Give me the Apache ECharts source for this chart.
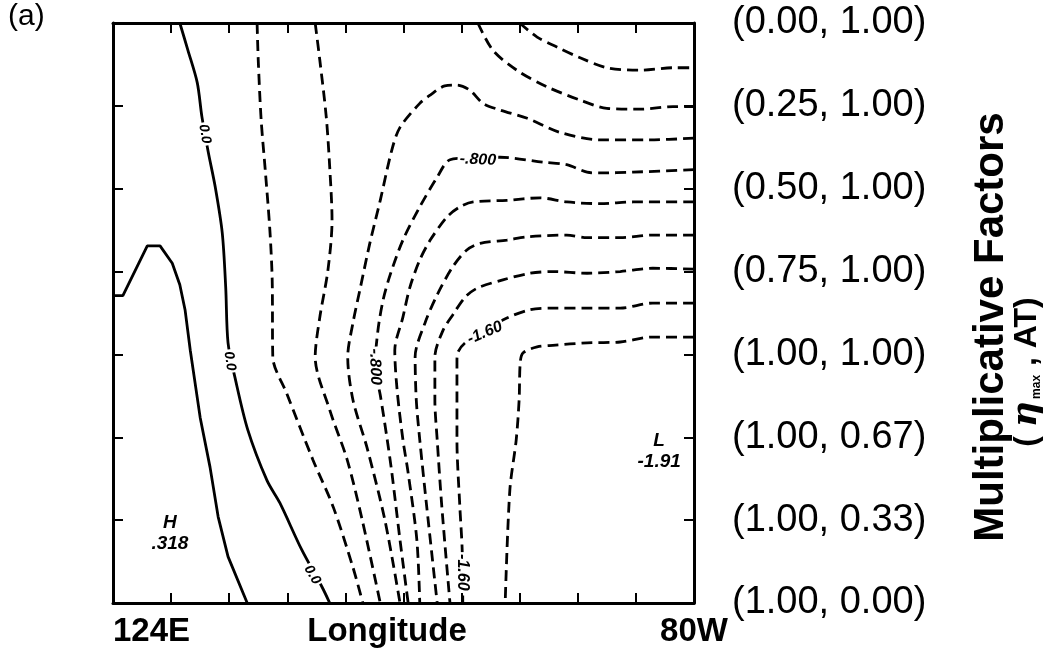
<!DOCTYPE html>
<html><head><meta charset="utf-8">
<script src="https://cdn.jsdelivr.net/npm/echarts@6/dist/echarts.min.js"></script>
<style>html,body{margin:0;padding:0;background:#fff}#c{width:1044px;height:659px}</style>
</head><body><div id="c"></div>
<script>
// y categories (top to bottom): multiplicative factors (eta_max, AT)
const yTickLabels = ['(0.00, 1.00)','(0.25, 1.00)','(0.50, 1.00)','(0.75, 1.00)','(1.00, 1.00)','(1.00, 0.67)','(1.00, 0.33)','(1.00, 0.00)'];
// x: longitude grid index 0..10 (124E .. 80W)
const xTickLabels = {0:'124E', 10:'80W'};

// solid contours
const contourZero = [[1.15,0],[1.29,0.33],[1.45,0.72],[1.53,1.13],[1.64,1.56],[1.76,1.98],[1.88,2.53],[1.94,3.19],[1.98,3.86],[2.10,4.28],[2.32,4.91],[2.65,5.52],[2.87,5.79],[3.25,6.36],[3.60,6.81],[3.73,7]];
const contourHigh = [[0,3.29],[0.17,3.29],[0.59,2.69],[0.81,2.69],[1.02,2.90],[1.15,3.16],[1.24,3.46],[1.33,3.95],[1.50,4.76],[1.67,5.36],[1.81,5.96],[1.98,6.44],[2.31,7]];

// dashed (negative) contours
const contourM02a = [[2.48,0],[2.50,0.45],[2.55,1.17],[2.62,1.77],[2.70,2.50],[2.74,3.10],[2.75,4.03],[2.99,4.47],[3.44,5.27],[3.79,5.84],[4.13,6.57],[4.30,7]];
const contourM02b = [[7.00,0],[7.30,0.17],[7.64,0.29],[8.04,0.42],[8.50,0.54],[9.07,0.57],[9.64,0.54],[10,0.54]];
const contourM04a = [[3.48,0],[3.56,0.45],[3.67,1.13],[3.73,1.74],[3.77,2.38],[3.70,2.98],[3.56,3.55],[3.48,4.03],[3.73,4.67],[4.03,5.27],[4.29,6.00],[4.60,7]];
const contourM04b = [[6.28,0],[6.54,0.33],[6.95,0.57],[7.47,0.77],[8.04,0.93],[8.50,1.03],[9.07,1.04],[9.64,1.01],[10,1.01]];
const contourM06 = [[10,1.39],[9.24,1.41],[8.38,1.41],[7.69,1.32],[7.13,1.15],[6.66,1.05],[6.37,0.97],[6.14,0.81],[5.92,0.75],[5.71,0.76],[5.46,0.87],[5.28,0.97],[4.94,1.26],[4.80,1.53],[4.60,2.14],[4.42,2.66],[4.25,3.22],[4.13,3.62],[4.04,4.03],[4.13,4.55],[4.37,5.12],[4.68,6.00],[4.94,7]];
const contourM08 = [[10,1.77],[8.95,1.80],[8.38,1.81],[8.16,1.80],[7.81,1.71],[7.40,1.68],[6.66,1.62],[6.14,1.63],[5.80,1.65],[5.58,1.86],[5.28,2.22],[4.99,2.62],[4.77,3.04],[4.65,3.34],[4.56,3.71],[4.51,4.15],[4.60,4.49],[4.72,5.03],[4.80,5.43],[4.94,6.24],[5.08,7]];
const contourM10 = [[10,2.16],[8.95,2.16],[8.38,2.18],[7.81,2.16],[7.35,2.11],[6.78,2.14],[6.20,2.16],[5.97,2.22],[5.75,2.34],[5.46,2.62],[5.28,2.86],[5.11,3.19],[4.99,3.55],[4.85,3.95],[4.89,4.43],[4.99,5.03],[5.08,5.43],[5.23,6.24],[5.28,7]];
const contourM12 = [[10,2.56],[9.29,2.56],[8.73,2.59],[8.16,2.59],[7.81,2.56],[7.13,2.58],[6.78,2.62],[6.32,2.66],[6.09,2.74],[5.85,2.94],[5.58,3.28],[5.37,3.62],[5.20,4.03],[5.22,4.55],[5.28,5.03],[5.40,5.84],[5.58,7]];
const contourM14 = [[10,2.97],[9.29,2.96],[8.73,3.00],[8.16,3.02],[7.57,3.00],[7.18,3.02],[6.71,3.10],[6.27,3.20],[6.06,3.31],[5.85,3.52],[5.68,3.71],[5.54,4.03],[5.54,4.55],[5.58,5.03],[5.66,5.84],[5.80,7]];
const contourM16 = [[10,3.38],[9.29,3.38],[8.73,3.44],[8.16,3.44],[7.57,3.44],[7.18,3.46],[6.78,3.56],[6.40,3.71],[6.06,3.86],[5.94,3.97],[5.92,4.07],[5.92,4.55],[5.92,5.03],[5.97,5.84],[6.01,6.36],[6.02,7]];
const contourM18 = [[10,3.79],[9.29,3.79],[8.73,3.85],[8.16,3.86],[7.57,3.89],[7.30,3.91],[7.06,3.98],[7.01,4.09],[6.99,4.55],[6.94,5.03],[6.83,5.64],[6.75,7]];

// contour labels: text, position (data units)
const labelTexts = ['0.0','0.0','0.0','-.800','-.800','-1.60','-1.60'];
const labelPos = [[1.58,1.34],[2.01,4.08],[3.43,6.66],[6.28,1.65],[4.51,4.15],[6.40,3.74],[6.01,6.63]];
const labelRot = [-80,-82,-60,-3,-88,23,-90];
// extrema
const extremaTexts = ['H','.318','L','-1.91'];
const extremaPos = [[0.98,6.03],[0.98,6.28],[9.40,5.04],[9.40,5.29]];

const FONT = '"Liberation Sans", Arial, Helvetica, sans-serif';
const chart = echarts.init(document.getElementById('c'), null, {renderer:'canvas'});

const solidStyle = {color:'#000', width:2.8, type:'solid'};
const dashStyle = {color:'#000', width:2.8, type:[11,6]};
function lineSeries(data, style, smooth){
  return {type:'line', data, showSymbol:false, symbol:'none', smooth, lineStyle:style, silent:true, z:2, animation:false, clip:true};
}
const series = [
  lineSeries(contourZero, solidStyle, 0.3),
  lineSeries(contourHigh, solidStyle, false),
  ...[contourM02a,contourM02b,contourM04a,contourM04b,contourM06,contourM08,contourM10,contourM12,contourM14,contourM16,contourM18].map(d=>lineSeries(d,dashStyle,0.3)),
  {type:'scatter', symbolSize:0, z:5, silent:true, animation:false, itemStyle:{opacity:1, color:'#000'},
   data: labelPos.map((p,i)=>({value:p, label:{show:true, position:'inside', formatter:labelTexts[i], rotate:labelRot[i],
     fontSize: labelTexts[i]==='0.0'?14:16, fontStyle:'italic', fontWeight:'bold', fontFamily:FONT, color:'#000', opacity:1,
     backgroundColor:'#fff', padding:[0,2]}}))},
  {type:'scatter', symbolSize:0, z:5, silent:true, animation:false, itemStyle:{opacity:1, color:'#000'},
   data: extremaPos.map((p,i)=>({value:p, label:{show:true, position:'inside', formatter:extremaTexts[i],
     fontSize:19, fontStyle:'italic', fontWeight:'bold', fontFamily:FONT, color:'#000', opacity:1}}))}
];

const axisLine = {show:true, onZero:false, lineStyle:{color:'#000', width:3}};
const axisTick = {show:true, inside:true, length:10, lineStyle:{color:'#000', width:2}};

chart.setOption({
  backgroundColor:'#fff',
  animation:false,
  grid:{left:113, top:23, width:581, height:580, containLabel:false, outerBoundsMode:'none'},
  xAxis:[
    {type:'value', min:0, max:10, interval:1, position:'bottom', axisLine, axisTick, splitLine:{show:false},
     axisLabel:{formatter:v=>xTickLabels[v]||'', fontSize:33, fontWeight:'bold', fontFamily:FONT, color:'#000', margin:12, alignMinLabel:'left', showMinLabel:true, showMaxLabel:true},
     name:'Longitude', nameLocation:'middle', nameGap:12, nameMoveOverlap:false,
     nameTextStyle:{fontSize:33, fontWeight:'bold', fontFamily:FONT, color:'#000', padding:[0,33,0,0], verticalAlign:'top'}},
    {type:'value', min:0, max:10, interval:1, position:'top', axisLine, axisTick, splitLine:{show:false}, axisLabel:{show:false}}
  ],
  yAxis:[
    {type:'value', min:0, max:7, interval:1, inverse:true, position:'left', axisLine, axisTick, splitLine:{show:false}, axisLabel:{show:false}},
    {type:'value', min:0, max:7, interval:1, inverse:true, position:'right', axisLine, axisTick, splitLine:{show:false},
     axisLabel:{formatter:v=>yTickLabels[v]||'', fontSize:38, fontFamily:FONT, color:'#000', margin:38}}
  ],
  graphic:[
    {type:'text', left:8, top:2, style:{text:'(a)', font:'30px '+FONT, fill:'#000'}},
    {type:'text', x:991, y:327, rotation:Math.PI/2,
     style:{text:'Multiplicative Factors', font:'bold 42px '+FONT, fill:'#000', align:'center', verticalAlign:'middle'}},
    {type:'text', x:1027, y:372, rotation:Math.PI/2,
     style:{text:'{p|( }{eta|η}{sub|max}{p| , AT)}', align:'center', verticalAlign:'middle', fill:'#000',
       rich:{p:{fontSize:32, fontWeight:'bold', fontFamily:FONT, fill:'#000', lineHeight:32},
             eta:{fontSize:36, fontWeight:'bold', fontStyle:'italic', fontFamily:'"DejaVu Serif", serif', fill:'#000', lineHeight:32},
             sub:{fontSize:12, fontWeight:'bold', fontFamily:FONT, fill:'#000', verticalAlign:'bottom', lineHeight:32, padding:[0,0,0,2]}}}}
  ],
  series
});
</script></body></html>
